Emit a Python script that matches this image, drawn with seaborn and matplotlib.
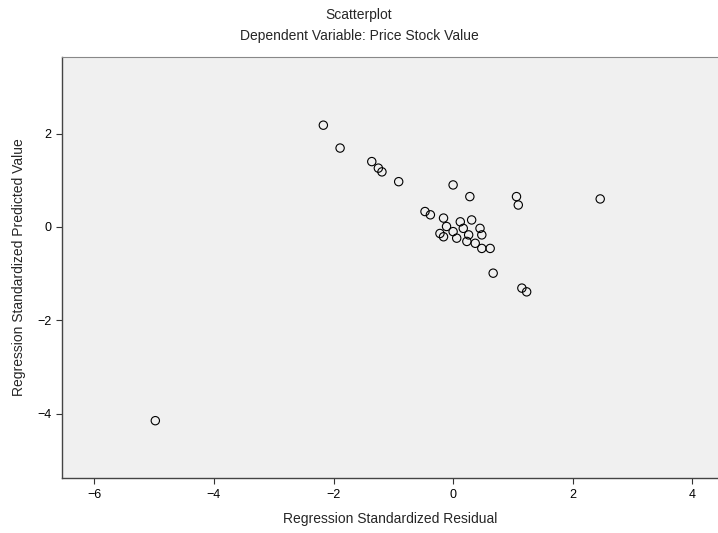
import pandas as pd
import matplotlib
matplotlib.use("Agg")
import matplotlib.pyplot as plt
import seaborn as sns

residual = [-2.17, -1.89, -1.36, -1.25, -1.19, -0.91, 0.00, 0.28, 1.06, 1.09,
            -0.47, -0.38, -0.16, -0.11, -0.22, 0.00, 0.12, 0.17, 0.31, 0.45,
            0.48, 0.26, 0.23, 0.37, 0.48, 0.62, -0.16, 0.06, 0.67, 1.15,
            1.23, 2.46, -4.98]
predicted = [2.18, 1.69, 1.40, 1.26, 1.18, 0.97, 0.90, 0.65, 0.65, 0.47,
             0.33, 0.26, 0.19, 0.01, -0.14, -0.10, 0.11, -0.03, 0.15, -0.03,
             -0.17, -0.17, -0.31, -0.35, -0.46, -0.46, -0.21, -0.24, -0.99, -1.31,
             -1.39, 0.60, -4.15]
x_ticks = [-6, -4, -2, 0, 2, 4]
y_ticks = [2, 0, -2, -4]

df = pd.DataFrame({"resid": residual, "pred": predicted})

sns.set_style("white")
plt.rcParams['font.family'] = ['Liberation Sans', 'DejaVu Sans']

fig = plt.figure(figsize=(7.18, 5.33), dpi=100)
ax = fig.add_axes([0.0864, 0.103, 0.9136, 0.79])
ax.set_facecolor('#f0f0f0')

sns.scatterplot(data=df, x="resid", y="pred", ax=ax, marker='o', s=36,
                facecolors='none', edgecolor='black', linewidth=0.8)

ax.set_xlim(-6.54, 4.43)
ax.set_ylim(-5.38, 3.64)
ax.set_xticks(x_ticks)
ax.set_yticks(y_ticks)
ax.tick_params(axis='both', direction='out', length=4, width=0.8, labelsize=9,
               bottom=True, left=True, colors='#333333', labelcolor='black')

for side in ['left', 'bottom']:
    ax.spines[side].set_color('#444444')
    ax.spines[side].set_linewidth(1.0)
ax.spines['top'].set_color('#888888')
ax.spines['top'].set_linewidth(0.8)
ax.spines['right'].set_visible(False)

ax.set_xlabel("Regression Standardized Residual", fontsize=10, labelpad=8)
ax.set_ylabel("Regression Standardized Predicted Value", fontsize=10, labelpad=8)

fig.text(0.5, 0.972, "Scatterplot", ha='center', va='center', fontsize=10)
fig.text(0.5, 0.932, "Dependent Variable: Price Stock Value", ha='center',
         va='center', fontsize=10)

fig.savefig("out.png", dpi=100)
